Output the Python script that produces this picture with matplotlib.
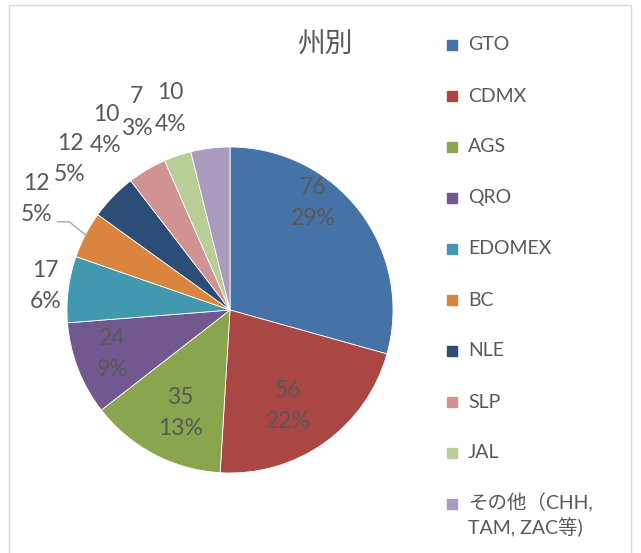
import numpy as np
import matplotlib
matplotlib.use('Agg')
import matplotlib.pyplot as plt
from matplotlib.patches import Rectangle

plt.rcParams['font.family'] = ['Lato', 'Noto Sans CJK JP', 'DejaVu Sans']

# data
states = ['GTO', 'CDMX', 'AGS', 'QRO', 'EDOMEX', 'BC', 'NLE', 'SLP', 'JAL',
          'その他（CHH,\nTAM, ZAC等)']
counts = [76, 56, 35, 24, 17, 12, 12, 10, 7, 10]
pct_labels = ['29%', '22%', '13%', '9%', '6%', '5%', '5%', '4%', '3%', '4%']
colors = ['#4572A7', '#AA4643', '#89A54E', '#71588F', '#4198AF', '#DB843D',
          '#2C4D75', '#D09392', '#B9CD96', '#A99BBD']

# label placement (radius factor, angle shift in deg) like Excel best fit
lab_r = [0.83, 0.69, 0.70, 0.77, 1.14, 1.37, 1.35, 1.34, 1.34, 1.29]
lab_da = [15, -4.4, 1.9, -0.6, 0, -2.4, 0.8, 4, 6.5, 9.6]

W, H = 641, 553
fig = plt.figure(figsize=(W/100, H/100), dpi=100)
ax = fig.add_axes([0, 0, 1, 1])
cx, cy, R = 230, H - 310, 163
txtc = '#595959'

wedges, _ = ax.pie(counts, colors=colors, startangle=90, counterclock=False,
                   center=(cx, cy), radius=R,
                   wedgeprops=dict(edgecolor='white', linewidth=0.6))
ax.set_xlim(0, W)
ax.set_ylim(0, H)
ax.set_aspect('equal')
ax.axis('off')

for i, w in enumerate(wedges):
    mid = (w.theta1 + w.theta2) / 2
    a = np.deg2rad(mid + lab_da[i])
    x = cx + lab_r[i]*R*np.cos(a)
    y = cy + lab_r[i]*R*np.sin(a)
    ax.text(x, y, f'{counts[i]}\n{pct_labels[i]}', ha='center', va='center',
            fontsize=16.5, color=txtc, linespacing=1.6)
    if states[i] == 'BC':
        m = np.deg2rad(mid)
        ex, ey = cx + R*np.cos(m), cy + R*np.sin(m)
        ax.plot([x + 21, x + 33, ex], [y - 23, y - 23, ey], color='#a6a6a6', lw=1)

# title
ax.text(325, H - 45, '州別', ha='center', va='center', fontsize=20, color=txtc)

# legend
for i, s in enumerate(states):
    yy = H - (45 + 51*i)
    ax.add_patch(Rectangle((447, yy - 5), 10, 10, color=colors[i]))
    if '\n' in s:
        ax.text(468, yy + 11, s, ha='left', va='top', fontsize=14, color=txtc,
                linespacing=1.3)
    else:
        ax.text(468, yy, s, ha='left', va='center', fontsize=14, color=txtc)

# chart border
fig.patches.append(Rectangle((9/W, -0.1), 622/W, 1.1 - 5/H, transform=fig.transFigure,
                             fill=False, edgecolor='#d9d9d9', lw=1))

fig.savefig('out.png', dpi=100)
